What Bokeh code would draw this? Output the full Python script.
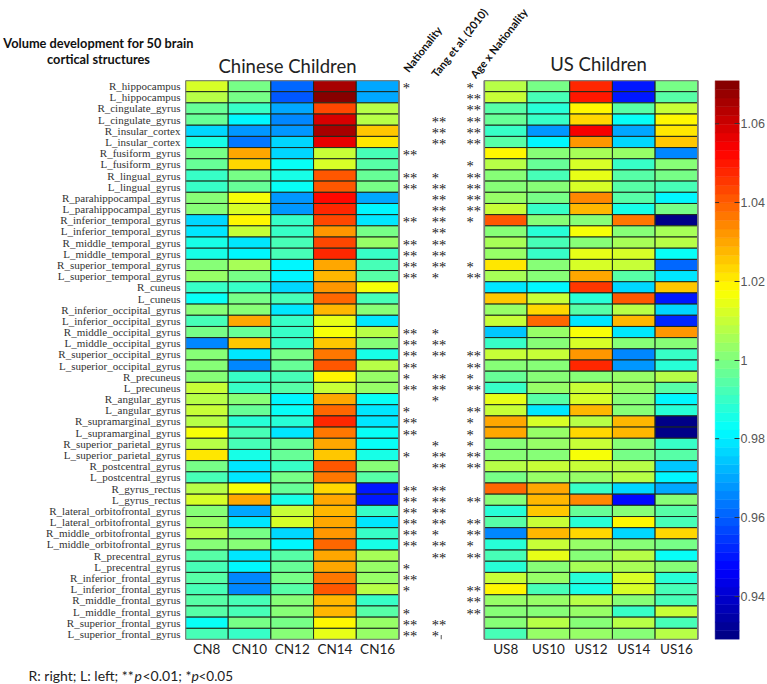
from bokeh.plotting import figure
from bokeh.layouts import column
from bokeh.models import Range1d, LinearAxis, FixedTicker, LinearColorMapper, ColumnDataSource
from bokeh.transform import transform
from bokeh.core.properties import value
from bokeh.embed import file_html
from bokeh.resources import INLINE
import numpy as np

regions = ["R_hippocampus","L_hippocampus","R_cingulate_gyrus","L_cingulate_gyrus","R_insular_cortex","L_insular_cortex",
"R_fusiform_gyrus","L_fusiform_gyrus","R_lingual_gyrus","L_lingual_gyrus","R_parahippocampal_gyrus","L_parahippocampal_gyrus",
"R_inferior_temporal_gyrus","L_inferior_temporal_gyrus","R_middle_temporal_gyrus","L_middle_temporal_gyrus",
"R_superior_temporal_gyrus","L_superior_temporal_gyrus","R_cuneus","L_cuneus","R_inferior_occipital_gyrus","L_inferior_occipital_gyrus",
"R_middle_occipital_gyrus","L_middle_occipital_gyrus","R_superior_occipital_gyrus","L_superior_occipital_gyrus",
"R_precuneus","L_precuneus","R_angular_gyrus","L_angular_gyrus","R_supramarginal_gyrus","L_supramarginal_gyrus",
"R_superior_parietal_gyrus","L_superior_parietal_gyrus","R_postcentral_gyrus","L_postcentral_gyrus","R_gyrus_rectus","L_gyrus_rectus",
"R_lateral_orbitofrontal_gyrus","L_lateral_orbitofrontal_gyrus","R_middle_orbitofrontal_gyrus","L_middle_orbitofrontal_gyrus",
"R_precentral_gyrus","L_precentral_gyrus","R_inferior_frontal_gyrus","L_inferior_frontal_gyrus","R_middle_frontal_gyrus","L_middle_frontal_gyrus",
"R_superior_frontal_gyrus","L_superior_frontal_gyrus"]
cn_labels = ["CN8","CN10","CN12","CN14","CN16"]
us_labels = ["US8","US10","US12","US14","US16"]

cn_values = [
[1.013,.998,.961,1.066,.969],[1.008,.998,.958,1.071,.969],[.996,.990,.969,1.044,1.007],[.996,.982,.966,1.059,1.007],
[.977,.968,.968,1.066,1.025],[.985,.964,.977,1.056,1.021],[.998,1.029,.977,1.011,.993],[.996,1.023,.984,1.013,.995],
[.989,.998,.986,1.040,.996],[.989,.996,.984,1.042,.998],[1.000,1.016,.968,1.053,.970],[1.000,1.012,.968,1.047,.982],
[.977,1.018,.991,1.044,.980],[.978,1.009,.991,1.033,.998],[.986,.980,.993,1.044,1.004],[.986,.981,.993,1.048,.991],
[1.000,1.005,.982,1.031,.993],[1.004,.998,.981,1.028,.995],[.991,.989,.977,1.033,1.016],[.983,.998,.993,1.038,.993],
[1.002,1.002,.979,1.028,1.002],[.993,1.031,.991,1.014,.980],[.998,.996,.989,1.016,1.008],[.966,1.025,.989,1.025,1.002],
[1.002,.980,.998,1.036,.986],[1.002,.965,.996,1.040,1.008],[1.000,.990,.993,1.018,1.004],[1.009,.990,.995,1.010,1.004],
[1.007,1.000,.981,1.030,.983],[1.010,.996,.983,1.038,.978],[1.007,.988,.988,1.048,.979],[1.016,.993,.978,1.037,.983],
[1.008,.993,.996,1.030,.983],[1.021,.985,.996,1.025,.985],[.998,.979,.991,1.040,1.002],[.993,.979,.998,1.037,.995],
[1.008,1.017,.997,1.024,.951],[1.012,1.029,.985,1.029,.950],[1.002,.971,1.010,1.028,.991],[1.004,.980,1.013,1.030,.980],
[1.007,.998,.976,1.032,.991],[1.002,1.002,.981,1.039,.985],[.995,.980,.995,1.029,1.005],[.993,.982,.997,1.029,1.004],
[.995,.966,.998,1.036,1.004],[.993,.965,.995,1.042,1.007],[.995,.993,1.000,1.028,.991],[.995,.992,1.000,1.027,.995],
[.983,.998,.998,1.018,1.004],[.993,.990,1.000,1.014,1.004]]

us_values = [
[1.008,.998,1.047,.951,.998],[1.010,.993,1.051,.950,.995],[.995,.988,1.018,.995,1.009],[.996,.991,1.024,.983,1.018],
[.991,.968,1.055,.970,1.021],[.995,.982,1.033,.977,1.025],[1.019,1.002,1.006,1.004,.966],[1.008,.996,1.012,.991,1.000],
[1.002,.993,1.014,.995,.998],[1.002,1.002,1.013,.995,.993],[1.004,.998,1.035,.995,.982],[1.009,.991,1.027,.985,.998],
[1.041,1.002,1.002,1.036,.931],[1.002,.988,1.016,1.000,1.005],[1.005,.993,1.000,1.005,1.007],[1.004,.991,1.015,1.013,.983],
[1.021,1.000,1.013,1.011,.961],[1.006,1.000,1.029,.995,.980],[.978,.982,1.046,.977,1.026],[1.025,1.011,.988,1.041,.949],
[1.004,1.024,.995,1.008,.977],[1.009,1.039,.980,1.028,.952],[.975,1.004,1.017,.979,1.032],[.991,1.002,1.013,1.000,1.000],
[1.009,1.011,1.033,.966,.991],[1.002,1.002,1.047,.967,.988],[.996,1.000,1.002,1.004,1.007],[.991,1.004,1.011,1.004,.995],
[1.015,.995,1.012,1.002,.982],[1.009,.979,1.027,1.002,.988],[1.029,1.012,1.008,1.028,.931],[1.030,1.004,1.024,1.027,.931],
[1.000,1.004,1.011,1.002,.991],[1.000,1.002,1.017,.998,.995],[1.007,1.009,1.011,1.007,.975],[.998,1.004,1.004,1.008,.982],
[1.039,1.030,.991,.977,.970],[1.002,1.028,1.035,.948,1.000],[.988,1.026,.997,1.002,.995],[.995,1.009,.988,1.018,.993],
[.966,1.027,1.023,.976,1.024],[.988,1.011,1.004,1.002,.998],[.993,1.014,1.002,1.008,.983],[.988,1.002,1.005,1.006,1.002],
[1.011,1.004,.988,1.013,.988],[1.018,.993,.986,1.012,.993],[1.003,1.004,1.008,1.000,.993],[1.000,1.002,1.004,.991,1.011],
[1.002,1.008,1.000,1.008,.993],[.993,1.004,1.004,1.000,1.008]]

nationality_sig = ["*","","","","","","**","","**","**","","","**","","**","**","**","**","","","","","**","**","**","**","*","**","","*","**","**","","*","","","**","**","**","**","**","**","","*","**","*","","*","**","**"]
tang_sig = ["","","","**","**","**","","","*","**","**","**","**","**","**","**","**","*","","","","","*","**","**","","**","**","*","","","","*","**","**","","**","**","**","**","*","**","**","","","","","","**","*"]
age_sig = ["*","**","**","**","**","**","","*","**","**","**","**","*","","","","*","**","","","","","","","**","**","*","**","","**","*","*","*","**","**","","","**","","**","**","*","**","","","**","**","**","",""]
sig_names = ["Nationality", "Tang et al. (2010)", "Age x Nationality"]
colorbar_ticks = [0.94, 0.96, 0.98, 1.0, 1.02, 1.04, 1.06]

VMIN, VMAX = 0.929, 1.071
LEVELS = 64

def jet(t):
    r = np.clip(min(4*t-1.5, -4*t+4.5), 0, 1)
    g = np.clip(min(4*t-0.5, -4*t+3.5), 0, 1)
    b = np.clip(min(4*t+0.5, -4*t+2.5), 0, 1)
    return "#%02x%02x%02x" % (int(r*255), int(g*255), int(b*255))

palette = [jet((i+0.5)/LEVELS) for i in range(LEVELS)]
mapper = LinearColorMapper(palette=palette, low=VMIN, high=VMAX)

W = 767
HEAD_H, MAIN_H, FOOT_H = 79, 580, 25
PX = 43.0
LEFT = 185; RIGHT = 24; TOP = 1; BOTTOM = 20
x_max = (W-LEFT-RIGHT)/PX
n = len(regions)

p = figure(width=W, height=MAIN_H, output_backend="svg", toolbar_location=None,
           x_range=Range1d(0, x_max), y_range=Range1d(n, 0), frame_align=False,
           min_border_left=LEFT, min_border_right=RIGHT, min_border_top=TOP, min_border_bottom=BOTTOM,
           outline_line_color=None, background_fill_color="white")
p.grid.visible = False
p.extra_y_ranges["cb"] = Range1d(VMIN, VMAX)

# heatmaps
US_X0 = 7
xs, ys, vals = [], [], []
for i, row in enumerate(cn_values):
    for j, v in enumerate(row):
        xs.append(j+0.5); ys.append(i+0.5); vals.append(v)
for i, row in enumerate(us_values):
    for j, v in enumerate(row):
        xs.append(US_X0+j+0.5); ys.append(i+0.5); vals.append(v)
src = ColumnDataSource(dict(x=xs, y=ys, v=vals))
p.rect("x", "y", width=1, height=1, source=src, fill_color=transform("v", mapper),
       line_color="#1c2a1c", line_width=1)

for x0 in (0, US_X0):
    p.quad(left=x0, right=x0+5, bottom=n, top=0,
           fill_alpha=0, line_color="#7a7a7a", line_width=1.6)

# significance stars
for x0, sig in zip((5.09, 5.77, 6.58), (nationality_sig, tang_sig, age_sig)):
    sx = [x0 for s in sig if s]
    sy = [i+0.5 for i, s in enumerate(sig) if s]
    st = [s for s in sig if s]
    p.text(sx, sy, text=st, text_font=value("Liberation Serif"), text_font_size="14.5px",
           text_color="#222222", text_align="left", text_baseline="middle", y_offset=2)
p.segment([5.99], [n-0.4], [5.99], [n], line_color="#555555")

# colour bar
CB_L = (718.5-LEFT)/PX
lv = np.linspace(VMIN, VMAX, LEVELS+1)
p.quad(left=CB_L, right=x_max, bottom=lv[:-1], top=lv[1:], y_range_name="cb",
       fill_color=palette, line_color=palette, line_width=0.5)
tk = np.array(colorbar_ticks)
p.segment(CB_L, tk, CB_L+4/PX, tk, y_range_name="cb", line_color="#333333", line_width=1)

# axes
p.yaxis.ticker = FixedTicker(ticks=[i+0.5 for i in range(n)])
p.yaxis.major_label_overrides = {i+0.5: r for i, r in enumerate(regions)}
p.yaxis.axis_line_color = None
p.yaxis.major_tick_line_color = None
p.yaxis.minor_tick_line_color = None
p.yaxis.major_tick_out = 0
p.yaxis.major_tick_in = 0
p.yaxis.major_label_text_font = "Liberation Serif"
p.yaxis.major_label_text_font_size = "11px"
p.yaxis.major_label_text_color = "#333333"
p.yaxis.major_label_standoff = 5

p.xaxis.axis_line_color = None
p.xaxis.major_tick_line_color = None
p.xaxis.minor_tick_line_color = None
p.xaxis.major_tick_out = 0
p.xaxis.major_tick_in = 0
ticks = [i+0.5 for i in range(5)] + [US_X0+i+0.5 for i in range(5)]
p.xaxis.ticker = FixedTicker(ticks=ticks)
p.xaxis.major_label_overrides = dict(zip(ticks, cn_labels+us_labels))
p.xaxis.major_label_text_font = "Lato"
p.xaxis.major_label_text_font_size = "13.5px"
p.xaxis.major_label_text_color = "#222222"
p.xaxis.major_label_standoff = 1

cb_axis = LinearAxis(y_range_name="cb", ticker=FixedTicker(ticks=colorbar_ticks),
                     major_label_overrides={1: "1"},
                     axis_line_color=None, major_tick_in=5, major_tick_out=0,
                     major_tick_line_color="#333333", minor_tick_line_color=None,
                     major_label_standoff=1, major_label_text_font="Liberation Sans",
                     major_label_text_font_size="12.5px", major_label_text_color="#555555")
p.add_layout(cb_axis, "right")

def strip(h, y0):
    f = figure(width=W, height=h, output_backend="svg", toolbar_location=None,
               x_range=Range1d(0, W), y_range=Range1d(y0+h, y0), frame_align=False,
               min_border_left=0, min_border_right=0, min_border_top=0, min_border_bottom=0,
               x_axis_location=None, y_axis_location=None, outline_line_color=None)
    f.grid.visible = False
    return f

def lab(f, px, py, text, font="Lato", size="14px", style="normal", color="#111111", align="left", angle=0):
    f.text([px], [py], text=[text], text_font=value(font), text_font_size=size, text_font_style=style,
           text_color=color, text_align=align, text_baseline="middle", angle=angle, angle_units="deg")

head = strip(HEAD_H, 0)
lab(head, 98, 42, "Volume development for 50 brain", size="12.8px", style="bold", align="center")
lab(head, 98, 58, "cortical structures", size="12.8px", style="bold", align="center")
lab(head, 287, 65, "Chinese Children", size="18.5px", color="#222222", align="center")
lab(head, 598, 63, "US Children", size="18.5px", color="#222222", align="center")
lab(head, 405, 70, sig_names[0], size="11px", style="bold", angle=52)
lab(head, 433, 75, sig_names[1], size="11px", style="bold", angle=52)
lab(head, 472, 76, sig_names[2], size="11px", style="bold", angle=52)

foot = strip(FOOT_H, HEAD_H+MAIN_H)
lab(foot, 28, 675, "R: right; L: left; **", size="14px", color="#222222")
lab(foot, 134, 675, "p", size="14px", style="italic", color="#222222")
lab(foot, 142, 675, "<0.01; *", size="14px", color="#222222")
lab(foot, 191, 675, "p", size="14px", style="italic", color="#222222")
lab(foot, 198, 675, "<0.05", size="13.5px", color="#222222")

open("out.html", "w").write(file_html(column(head, p, foot), INLINE))
